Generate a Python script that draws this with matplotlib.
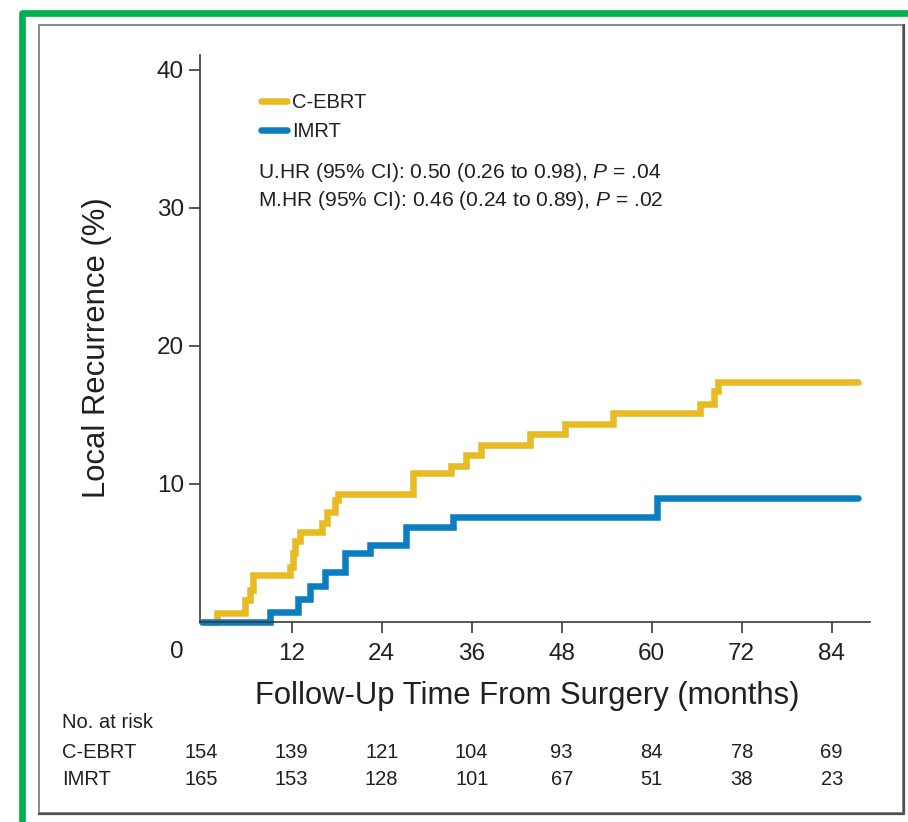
import matplotlib
matplotlib.use("Agg")
import matplotlib.pyplot as plt
from matplotlib.lines import Line2D
from matplotlib.patches import Rectangle
from matplotlib.transforms import blended_transform_factory

plt.rcParams['font.family'] = ['Liberation Sans', 'DejaVu Sans']
plt.rcParams['mathtext.fontset'] = 'custom'
plt.rcParams['mathtext.rm'] = 'Liberation Sans'
plt.rcParams['mathtext.it'] = 'Liberation Sans:italic'

# step curves (months, % local recurrence)
cebrt_t = [0, 2.0, 5.8, 6.4, 6.9, 11.8, 12.2, 12.4, 13.1, 16.0, 16.7, 17.8, 18.2,
           28.2, 33.3, 35.3, 37.3, 43.8, 48.4, 54.9, 66.4, 68.3, 68.8, 87.5]
cebrt_y = [0, 0.65, 1.6, 2.3, 3.4, 4.0, 5.0, 5.9, 6.5, 7.2, 8.0, 8.8, 9.3,
           10.8, 11.3, 12.1, 12.8, 13.6, 14.3, 15.1, 15.8, 16.7, 17.4, 17.4]
imrt_t = [0, 9.1, 12.9, 14.4, 16.4, 19.1, 22.4, 27.3, 33.5, 60.7, 87.5]
imrt_y = [0, 0.7, 1.7, 2.6, 3.6, 5.0, 5.6, 6.9, 7.6, 9.0, 9.0]

risk_months = [0, 12, 24, 36, 48, 60, 72, 84]
risk_cebrt = [154, 139, 121, 104, 93, 84, 78, 69]
risk_imrt = [165, 153, 128, 101, 67, 51, 38, 23]

yellow = '#E8BB22'
blue = '#0B7DC1'
dark = '#231F20'

W, H = 908, 822
fig = plt.figure(figsize=(W / 100, H / 100), dpi=100)

def fx(px):
    return px / W

def fy(py):
    return 1 - py / H

# green frame (top + left) and the grey inner box
fig.add_artist(Line2D([fx(21.7), fx(21.7), fx(910)], [fy(830), fy(13.3), fy(13.3)],
                      color='#00B050', lw=4.8, solid_joinstyle='round',
                      transform=fig.transFigure))
fig.add_artist(Rectangle((fx(38.5), fy(813)), fx(903) - fx(38.5), fy(25) - fy(813),
                         fill=False, edgecolor='#808080', lw=1.3,
                         transform=fig.transFigure))
fig.add_artist(Line2D([fx(38.5), fx(903.5), fx(903.5)], [fy(813.5), fy(813.5), fy(25)],
                      color='#505050', lw=1.6, transform=fig.transFigure))

ax = fig.add_axes([fx(200), fy(622), fx(870) - fx(200), fy(55) - fy(622)])
ax.set_xlim(-0.23, 89.1)
ax.set_ylim(0, 41.05)

ax.plot(cebrt_t, cebrt_y, drawstyle='steps-post', color=yellow, lw=4.7,
        solid_capstyle='round', solid_joinstyle='miter', clip_on=False, label='C-EBRT')
ax.plot(imrt_t, imrt_y, drawstyle='steps-post', color=blue, lw=4.7,
        solid_capstyle='round', solid_joinstyle='miter', clip_on=False, label='IMRT')

for s in ['top', 'right']:
    ax.spines[s].set_visible(False)
for s in ['left', 'bottom']:
    ax.spines[s].set_color('#3A3A3A')
    ax.spines[s].set_linewidth(1.2)

ax.set_yticks([10, 20, 30, 40])
ax.set_xticks(risk_months[1:])
ax.tick_params(axis='both', direction='out', length=8, width=1.2, color='#3A3A3A',
               labelsize=17.5, labelcolor=dark)
ax.tick_params(axis='y', pad=3.5)
ax.tick_params(axis='x', pad=7)
ax.annotate('0', xy=(0, 0), xycoords=('data', 'axes fraction'), xytext=(-25, -30),
            textcoords='offset pixels', ha='center', va='center', fontsize=17.5, color=dark)

fig.text(fx(527), fy(696), 'Follow-Up Time From Surgery (months)',
         fontsize=22.3, ha='center', va='center', color=dark)
fig.text(fx(97), fy(347.5), 'Local Recurrence (%)', fontsize=22.3,
         rotation=90, ha='center', va='center', color=dark)

ax.legend(loc='upper left', bbox_to_anchor=(fx(261), fy(93)), bbox_transform=fig.transFigure,
          frameon=False, fontsize=14.5, handlelength=1.3, handletextpad=0.25,
          borderpad=0, borderaxespad=0, labelspacing=0.5, labelcolor=dark)

fig.text(fx(258), fy(173), 'U.HR (95% CI): 0.50 (0.26 to 0.98), $P$ = .04',
         fontsize=15.1, va='center', color=dark)
fig.text(fx(258), fy(200), 'M.HR (95% CI): 0.46 (0.24 to 0.89), $P$ = .02',
         fontsize=15.1, va='center', color=dark)

# number at risk table
tr = blended_transform_factory(ax.transData, fig.transFigure)
fig.text(fx(62), fy(722), 'No. at risk', fontsize=14.5, va='center', color=dark)
fig.text(fx(62), fy(752), 'C-EBRT', fontsize=14.5, va='center', color=dark)
fig.text(fx(62), fy(779), 'IMRT', fontsize=14.5, va='center', color=dark)
for m, a, b in zip(risk_months, risk_cebrt, risk_imrt):
    ax.text(m, fy(752), str(a), transform=tr, fontsize=14.5, ha='center', va='center', color=dark)
    ax.text(m, fy(779), str(b), transform=tr, fontsize=14.5, ha='center', va='center', color=dark)

fig.savefig('out.png', dpi=100)
